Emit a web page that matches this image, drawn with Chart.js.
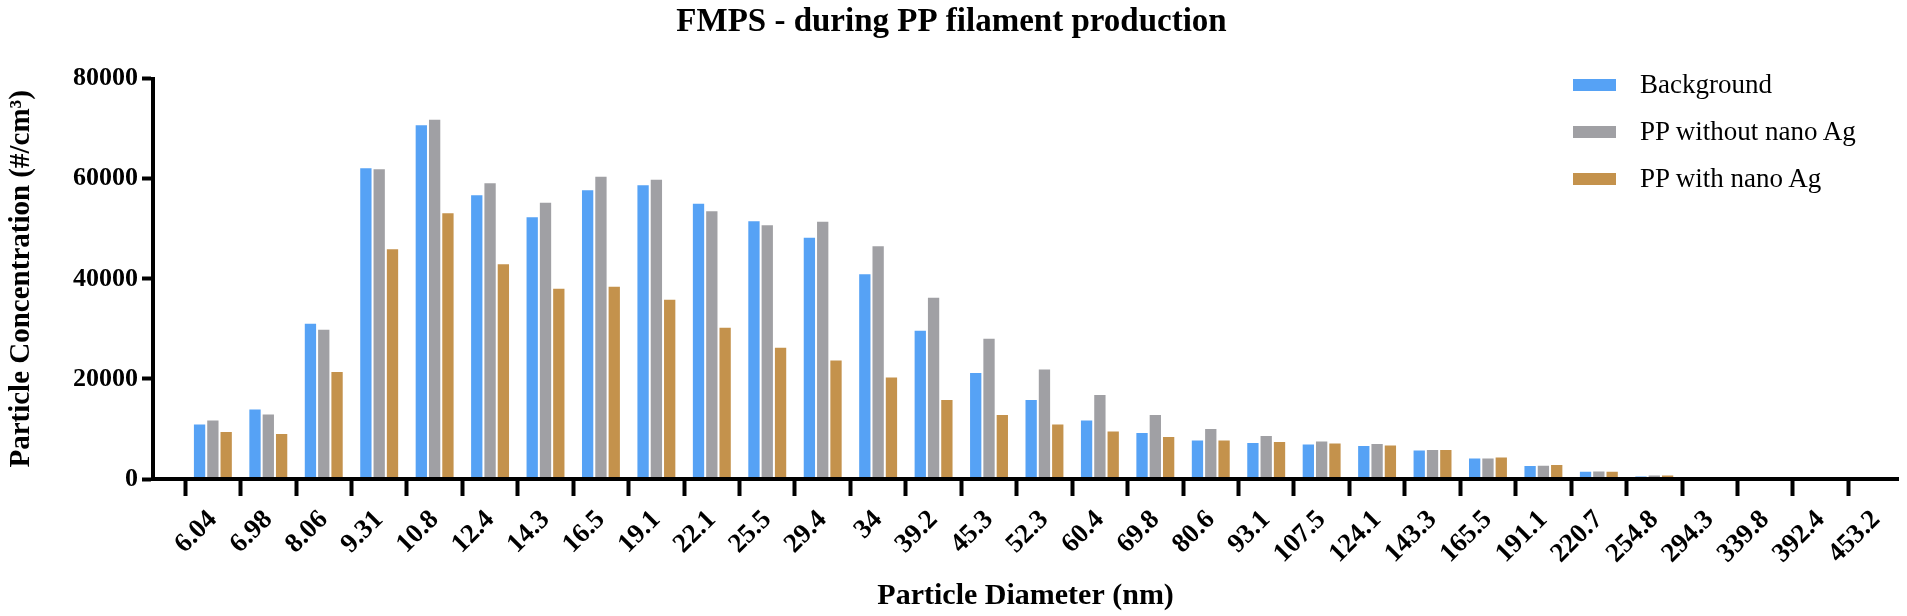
<!DOCTYPE html>
<html lang="en">
<head>
<meta charset="utf-8">
<title>FMPS - during PP filament production</title>
<script src="https://cdn.jsdelivr.net/npm/chart.js@4.4.1/dist/chart.umd.min.js"></script>
<style>
  body { margin: 0; background: #fff; }
  #wrap { position: relative; width: 1907px; height: 616px; }
  #legend { position: absolute; left: 1573px; top: 61px; font-family: "Liberation Serif", serif; font-size: 27px; color: #000; }
  #legend .row { display: flex; align-items: center; height: 47px; }
  #legend .box { width: 43px; height: 12px; margin-right: 24px; }
</style>
</head>
<body>
<div id="wrap">
  <canvas id="myChart" width="1907" height="616"></canvas>
  <div id="legend"></div>
</div>
<script>
// particle diameter bins (nm)
const diameters = ['6.04', '6.98', '8.06', '9.31', '10.8', '12.4', '14.3', '16.5', '19.1', '22.1',
  '25.5', '29.4', '34', '39.2', '45.3', '52.3', '60.4', '69.8', '80.6', '93.1',
  '107.5', '124.1', '143.3', '165.5', '191.1', '220.7', '254.8', '294.3', '339.8', '392.4', '453.2'];

const background = [10900, 13900, 31000, 62100, 70700, 56700, 52300, 57700, 58700, 55000,
  51500, 48200, 40900, 29600, 21200, 15800, 11700, 9200, 7700, 7200,
  6900, 6600, 5700, 4100, 2600, 1450, 500, 150, 30, 0, 0];
const ppWithout = [11700, 12900, 29800, 61900, 71800, 59100, 55200, 60400, 59800, 53500,
  50700, 51400, 46500, 36200, 28000, 21900, 16800, 12800, 10000, 8600,
  7500, 7000, 5800, 4100, 2650, 1500, 700, 300, 50, 0, 0];
const ppWith = [9400, 9000, 21400, 45900, 53100, 42900, 38000, 38400, 35800, 30200,
  26200, 23700, 20300, 15800, 12800, 10900, 9500, 8400, 7700, 7400,
  7100, 6700, 5800, 4300, 2800, 1450, 700, 300, 50, 0, 0];

const seriesNames = ['Background', 'PP without nano Ag', 'PP with nano Ag'];
const seriesColors = ['#56a2f5', '#a0a0a4', '#c4924c'];
const yTicks = [0, 20000, 40000, 60000, 80000];

const serif = '"Liberation Serif", "Times New Roman", serif';
const xIndex = diameters.map((d, i) => i);

const ctx = document.getElementById('myChart');
const C = new Chart(ctx, {
  type: 'bar',
  data: {
    labels: xIndex,
    datasets: [background, ppWithout, ppWith].map((vals, i) => ({
      label: seriesNames[i],
      data: vals,
      backgroundColor: seriesColors[i],
      categoryPercentage: 0.72,
      barPercentage: 0.85
    }))
  },
  options: {
    responsive: false,
    animation: false,
    layout: { padding: { right: 4 } },
    plugins: {
      legend: { display: false },
      tooltip: { enabled: false },
      title: {
        display: true,
        text: 'FMPS - during PP filament production',
        color: '#000',
        font: { family: serif, size: 33, weight: 'bold' },
        padding: { top: 3, bottom: 36 }
      }
    },
    scales: {
      x: {
        type: 'linear',
        offset: false,
        min: -1.08,
        max: 30.4,
        border: { color: '#000', width: 4, z: 1 },
        grid: { drawOnChartArea: false, drawTicks: true, tickLength: 17, tickWidth: 4, tickColor: '#000' },
        ticks: {
          stepSize: 1,
          includeBounds: false,
          autoSkip: false,
          minRotation: 45,
          maxRotation: 45,
          padding: 8,
          color: '#000',
          font: { family: serif, size: 27, weight: 'bold' },
          callback: v => diameters[v] ?? ''
        },
        title: {
          display: true,
          text: 'Particle Diameter (nm)',
          color: '#000',
          font: { family: serif, size: 30, weight: 'bold' },
          padding: { top: 0, bottom: 2 }
        },
        afterFit: s => { s.height = 137; }
      },
      y: {
        min: yTicks[0],
        max: yTicks[yTicks.length - 1],
        border: { color: '#000', width: 4, z: 1 },
        grid: { drawOnChartArea: false, drawTicks: true, tickLength: 11, tickWidth: 4, tickColor: '#000' },
        afterBuildTicks: s => { s.ticks = yTicks.map(v => ({ value: v })); },
        ticks: {
          padding: 4,
          color: '#000',
          font: { family: serif, size: 26, weight: 'bold' },
          callback: v => String(v)
        },
        title: {
          display: true,
          text: 'Particle Concentration (#/cm³)',
          color: '#000',
          font: { family: serif, size: 29, weight: 'bold' },
          padding: { top: 4, bottom: 0 }
        },
        afterFit: s => { s.width = 153; }
      }
    }
  }
});

// legend as plain html, built from the series names and colours
const legend = document.getElementById('legend');
seriesNames.forEach((name, i) => {
  const row = document.createElement('div');
  row.className = 'row';
  const box = document.createElement('span');
  box.className = 'box';
  box.style.background = seriesColors[i];
  const txt = document.createElement('span');
  txt.textContent = name;
  row.appendChild(box);
  row.appendChild(txt);
  legend.appendChild(row);
});
</script>
</body>
</html>
